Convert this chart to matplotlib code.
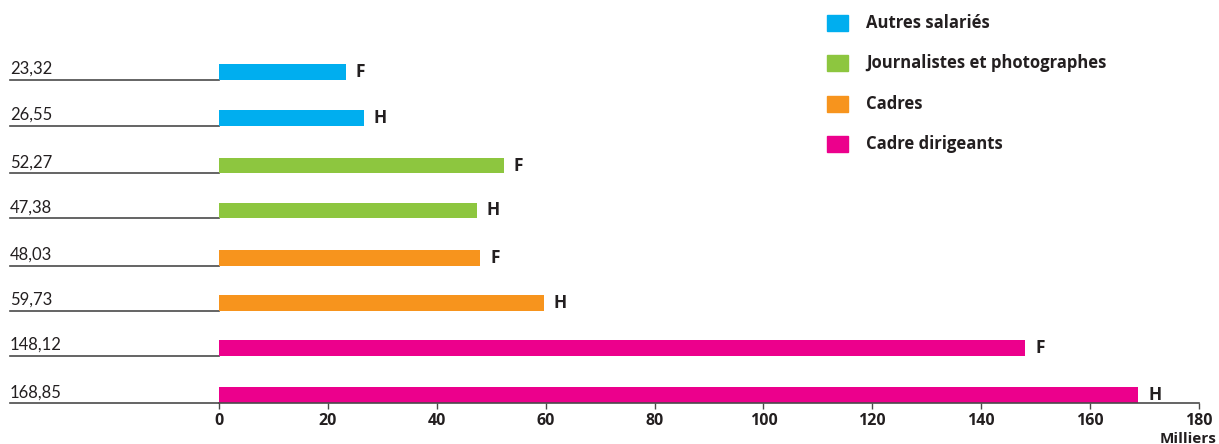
import matplotlib
matplotlib.use("Agg")
import matplotlib.pyplot as plt
import matplotlib.transforms as mtransforms
from matplotlib.patches import Rectangle

# Data (milliers d'euros), top to bottom
values = [23.32, 26.55, 52.27, 47.38, 48.03, 59.73, 148.12, 168.85]
value_labels = ["23,32", "26,55", "52,27", "47,38", "48,03", "59,73", "148,12", "168,85"]
sexes = ["F", "H", "F", "H", "F", "H", "F", "H"]
groups = ["Autres salariés", "Autres salariés",
          "Journalistes et photographes", "Journalistes et photographes",
          "Cadres", "Cadres", "Cadre dirigeants", "Cadre dirigeants"]
legend_labels = ["Autres salariés", "Journalistes et photographes", "Cadres", "Cadre dirigeants"]
group_colors = {"Autres salariés": "#00AEEF",
                "Journalistes et photographes": "#8DC63F",
                "Cadres": "#F7941D",
                "Cadre dirigeants": "#EC008C"}
x_ticks = [0, 20, 40, 60, 80, 100, 120, 140, 160, 180]

TEXT = "#231F20"
LINE = "#4a4a4a"
BOLD_FONT = ["Open Sans", "DejaVu Sans"]
plt.rcParams["font.family"] = ["Lato", "DejaVu Sans"]

W, H = 1219, 444
fig = plt.figure(figsize=(W / 100, H / 100), dpi=100)
ax = fig.add_axes([219 / W, 41 / H, (1199 - 219) / W, (H - 41) / H])

bar_h = 0.34
rows = [0, 1, 2.03, 3, 4.03, 5, 5.98, 7]
colors = [group_colors[g] for g in groups]
ax.barh(rows, values, height=bar_h, color=colors, zorder=2)

ax.set_xlim(0, 180)
ax.set_ylim(7 + bar_h / 2, -1.555)

for s in ["top", "right", "left"]:
    ax.spines[s].set_visible(False)
ax.spines["bottom"].set_color(LINE)
ax.spines["bottom"].set_linewidth(1.2)
ax.set_yticks([])
ax.set_xticks(x_ticks)
ax.set_xticklabels([str(t) for t in x_ticks], fontweight="bold", fontsize=11.5,
                   color=TEXT, family=BOLD_FONT)
ax.tick_params(axis="x", direction="out", length=4, width=1, color=LINE, pad=3)

# Row underlines and value labels on the left
blend = mtransforms.blended_transform_factory(fig.transFigure, ax.transData)
for y, lab, v, s in zip(rows, value_labels, values, sexes):
    y_line = y + bar_h / 2
    ax.plot([10 / W, 219 / W], [y_line, y_line], transform=blend, color=LINE,
            lw=1.2, clip_on=False, zorder=1)
    ax.text(10 / W, y_line - 0.06, lab, transform=blend, ha="left", va="bottom",
            fontsize=12, color=TEXT)
    ax.annotate(s, xy=(v, y), xytext=(7, 0), textcoords="offset points",
                ha="left", va="center", fontsize=12.5, fontweight="bold",
                color=TEXT, family=BOLD_FONT)

# Legend
for k, name in enumerate(legend_labels):
    yc = 23 + 40.3 * k
    fig.patches.append(Rectangle((827 / W, 1 - (yc + 8) / H), 21 / W, 16 / H,
                                 transform=fig.transFigure, color=group_colors[name]))
    fig.text(866 / W, 1 - yc / H, name, ha="left", va="center",
             fontsize=12, fontweight="bold", color=TEXT, family=BOLD_FONT)

fig.text(1160 / W, 1 - 439 / H, "Milliers", ha="left", va="center",
         fontsize=11, fontweight="bold", color=TEXT, family=BOLD_FONT)

fig.savefig("out.png", dpi=100)
